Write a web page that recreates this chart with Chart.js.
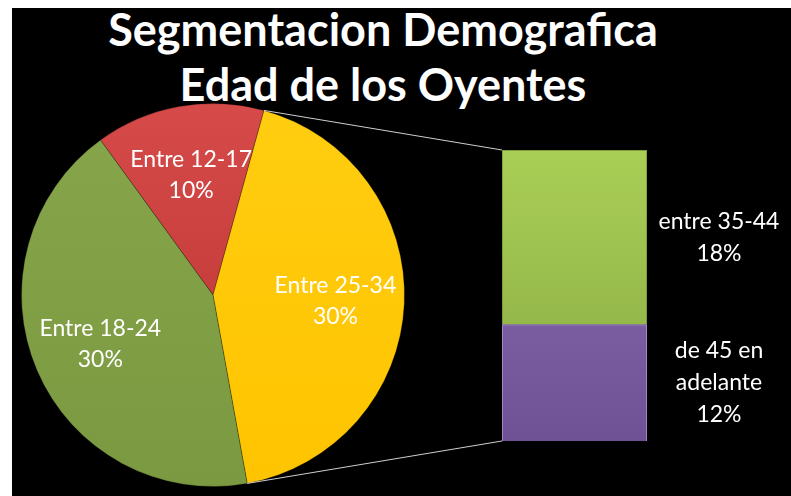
<!DOCTYPE html>
<html>
<head>
<meta charset="utf-8">
<script src="https://cdn.jsdelivr.net/npm/chart.js@4.4.0/dist/chart.umd.min.js"></script>
<style>
  html, body { margin: 0; padding: 0; background: #fff; }
  #stage { position: absolute; left: 12px; top: 8px; width: 779px; height: 488px; background: #000; overflow: hidden; }
  #title { position: absolute; left: 0; top: -6px; width: 742px; text-align: center; color: #fff;
           font-family: Lato, sans-serif; font-weight: bold; font-size: 45px; line-height: 55px; }
  canvas { position: absolute; }
  #pie { left: 1px; top: 87px; }
  #bar { left: 490px; top: 142px; }
  #links { left: 0; top: 0; pointer-events: none; }
</style>
</head>
<body>
<div id="stage">
  <div id="title">Segmentacion Demografica<br>Edad de los Oyentes</div>
  <canvas id="pie" width="400" height="400"></canvas>
  <canvas id="bar" width="289" height="291"></canvas>
  <canvas id="links" width="779" height="488"></canvas>
</div>
<script>
// pie, in drawing order (clockwise from the top-left)
const pieCategories = ["Entre 12-17", "Entre 25-34", "Entre 18-24"];
const pieValues = [10, 30, 30];
const pieColors = [["#d64b49", "#b8312f"], ["#ffcd10", "#ffc400"], ["#87a54a", "#7b9940"]];
const linkedSlice = 1; // slice that opens into the bar

// bar, bottom to top
const barCategories = [["de 45 en", "adelante"], ["entre 35-44"]];
const barValues = [12, 18];
const barColors = [["#8a6bb2", "#6f5296"], ["#aacf56", "#87a943"]];

const labelFont = "23px Lato, sans-serif";

// vertical gradient over the chart area
function grad(pairs) {
  return c => {
    const area = c.chart.chartArea;
    if (!area) return pairs[c.dataIndex % pairs.length][0];
    const p = c.chart.config.type === "bar" ? pairs[c.datasetIndex] : pairs[c.dataIndex];
    const g = c.chart.ctx.createLinearGradient(0, area.top, 0, area.bottom);
    g.addColorStop(0, p[0]);
    g.addColorStop(1, p[1]);
    return g;
  };
}

const pieLabels = {
  id: "pieLabels",
  afterDatasetsDraw(chart) {
    const ctx = chart.ctx;
    ctx.save();
    ctx.fillStyle = "#fff";
    ctx.font = labelFont;
    ctx.textAlign = "center";
    ctx.textBaseline = "middle";
    chart.getDatasetMeta(0).data.forEach((arc, i) => {
      const mid = (arc.startAngle + arc.endAngle) / 2;
      const r = arc.outerRadius * 0.64;
      const x = arc.x + Math.cos(mid) * r;
      const y = arc.y + Math.sin(mid) * r;
      ctx.fillText(pieCategories[i], x, y - 15);
      ctx.fillText(pieValues[i] + "%", x, y + 16);
    });
    ctx.restore();
  }
};

const barLabels = {
  id: "barLabels",
  afterDatasetsDraw(chart) {
    const ctx = chart.ctx;
    ctx.save();
    ctx.fillStyle = "#fff";
    ctx.font = labelFont;
    ctx.textAlign = "center";
    ctx.textBaseline = "middle";
    barValues.forEach((v, i) => {
      const bar = chart.getDatasetMeta(i).data[0];
      const lines = barCategories[i].concat([v + "%"]);
      const x = bar.x + bar.width / 2 + 72;
      const yMid = (bar.y + bar.base) / 2;
      lines.forEach((t, j) => {
        ctx.fillText(t, x, yMid + (j - (lines.length - 1) / 2) * 32);
      });
    });
    ctx.restore();
  }
};

const pieChart = new Chart(document.getElementById("pie"), {
  type: "pie",
  data: {
    labels: pieCategories,
    datasets: [{
      data: pieValues,
      backgroundColor: grad(pieColors),
      borderColor: "rgba(0,0,0,0.25)",
      borderWidth: 1
    }]
  },
  options: {
    responsive: false,
    animation: false,
    rotation: -36,
    layout: { padding: 8 },
    plugins: { legend: { display: false }, tooltip: { enabled: false } }
  },
  plugins: [pieLabels]
});

const barChart = new Chart(document.getElementById("bar"), {
  type: "bar",
  data: {
    labels: [""],
    datasets: barValues.map((v, i) => ({
      label: barCategories[i].join(" "),
      data: [v],
      backgroundColor: grad(barColors),
      borderColor: i === 0 ? "#b99be0" : "#6f8f30",
      borderWidth: 1,
      barPercentage: 1,
      categoryPercentage: 1
    }))
  },
  options: {
    responsive: false,
    animation: false,
    layout: { padding: { right: 144 } },
    scales: {
      x: { display: false, stacked: true },
      y: { display: false, stacked: true, min: 0, max: barValues.reduce((a, b) => a + b, 0) }
    },
    plugins: { legend: { display: false }, tooltip: { enabled: false } }
  },
  plugins: [barLabels]
});

// connector lines from the linked slice to the bar
function drawLinks() {
  const pieCanvas = document.getElementById("pie");
  const barCanvas = document.getElementById("bar");
  const ctx = document.getElementById("links").getContext("2d");
  const arc = pieChart.getDatasetMeta(0).data[linkedSlice];
  const top = barChart.getDatasetMeta(barValues.length - 1).data[0];
  const bottom = barChart.getDatasetMeta(0).data[0];
  const pt = a => [pieCanvas.offsetLeft + arc.x + Math.cos(a) * arc.outerRadius,
                   pieCanvas.offsetTop + arc.y + Math.sin(a) * arc.outerRadius];
  const p1 = pt(arc.startAngle);
  const p2 = pt(arc.endAngle);
  const q1 = [barCanvas.offsetLeft + top.x - top.width / 2, barCanvas.offsetTop + top.y];
  const q2 = [barCanvas.offsetLeft + bottom.x - bottom.width / 2, barCanvas.offsetTop + bottom.base];
  ctx.strokeStyle = "#cfcfcf";
  ctx.lineWidth = 1;
  ctx.beginPath();
  ctx.moveTo(p1[0], p1[1]); ctx.lineTo(q1[0], q1[1]);
  ctx.moveTo(p2[0], p2[1]); ctx.lineTo(q2[0], q2[1]);
  ctx.stroke();
}
drawLinks();
</script>
</body>
</html>
